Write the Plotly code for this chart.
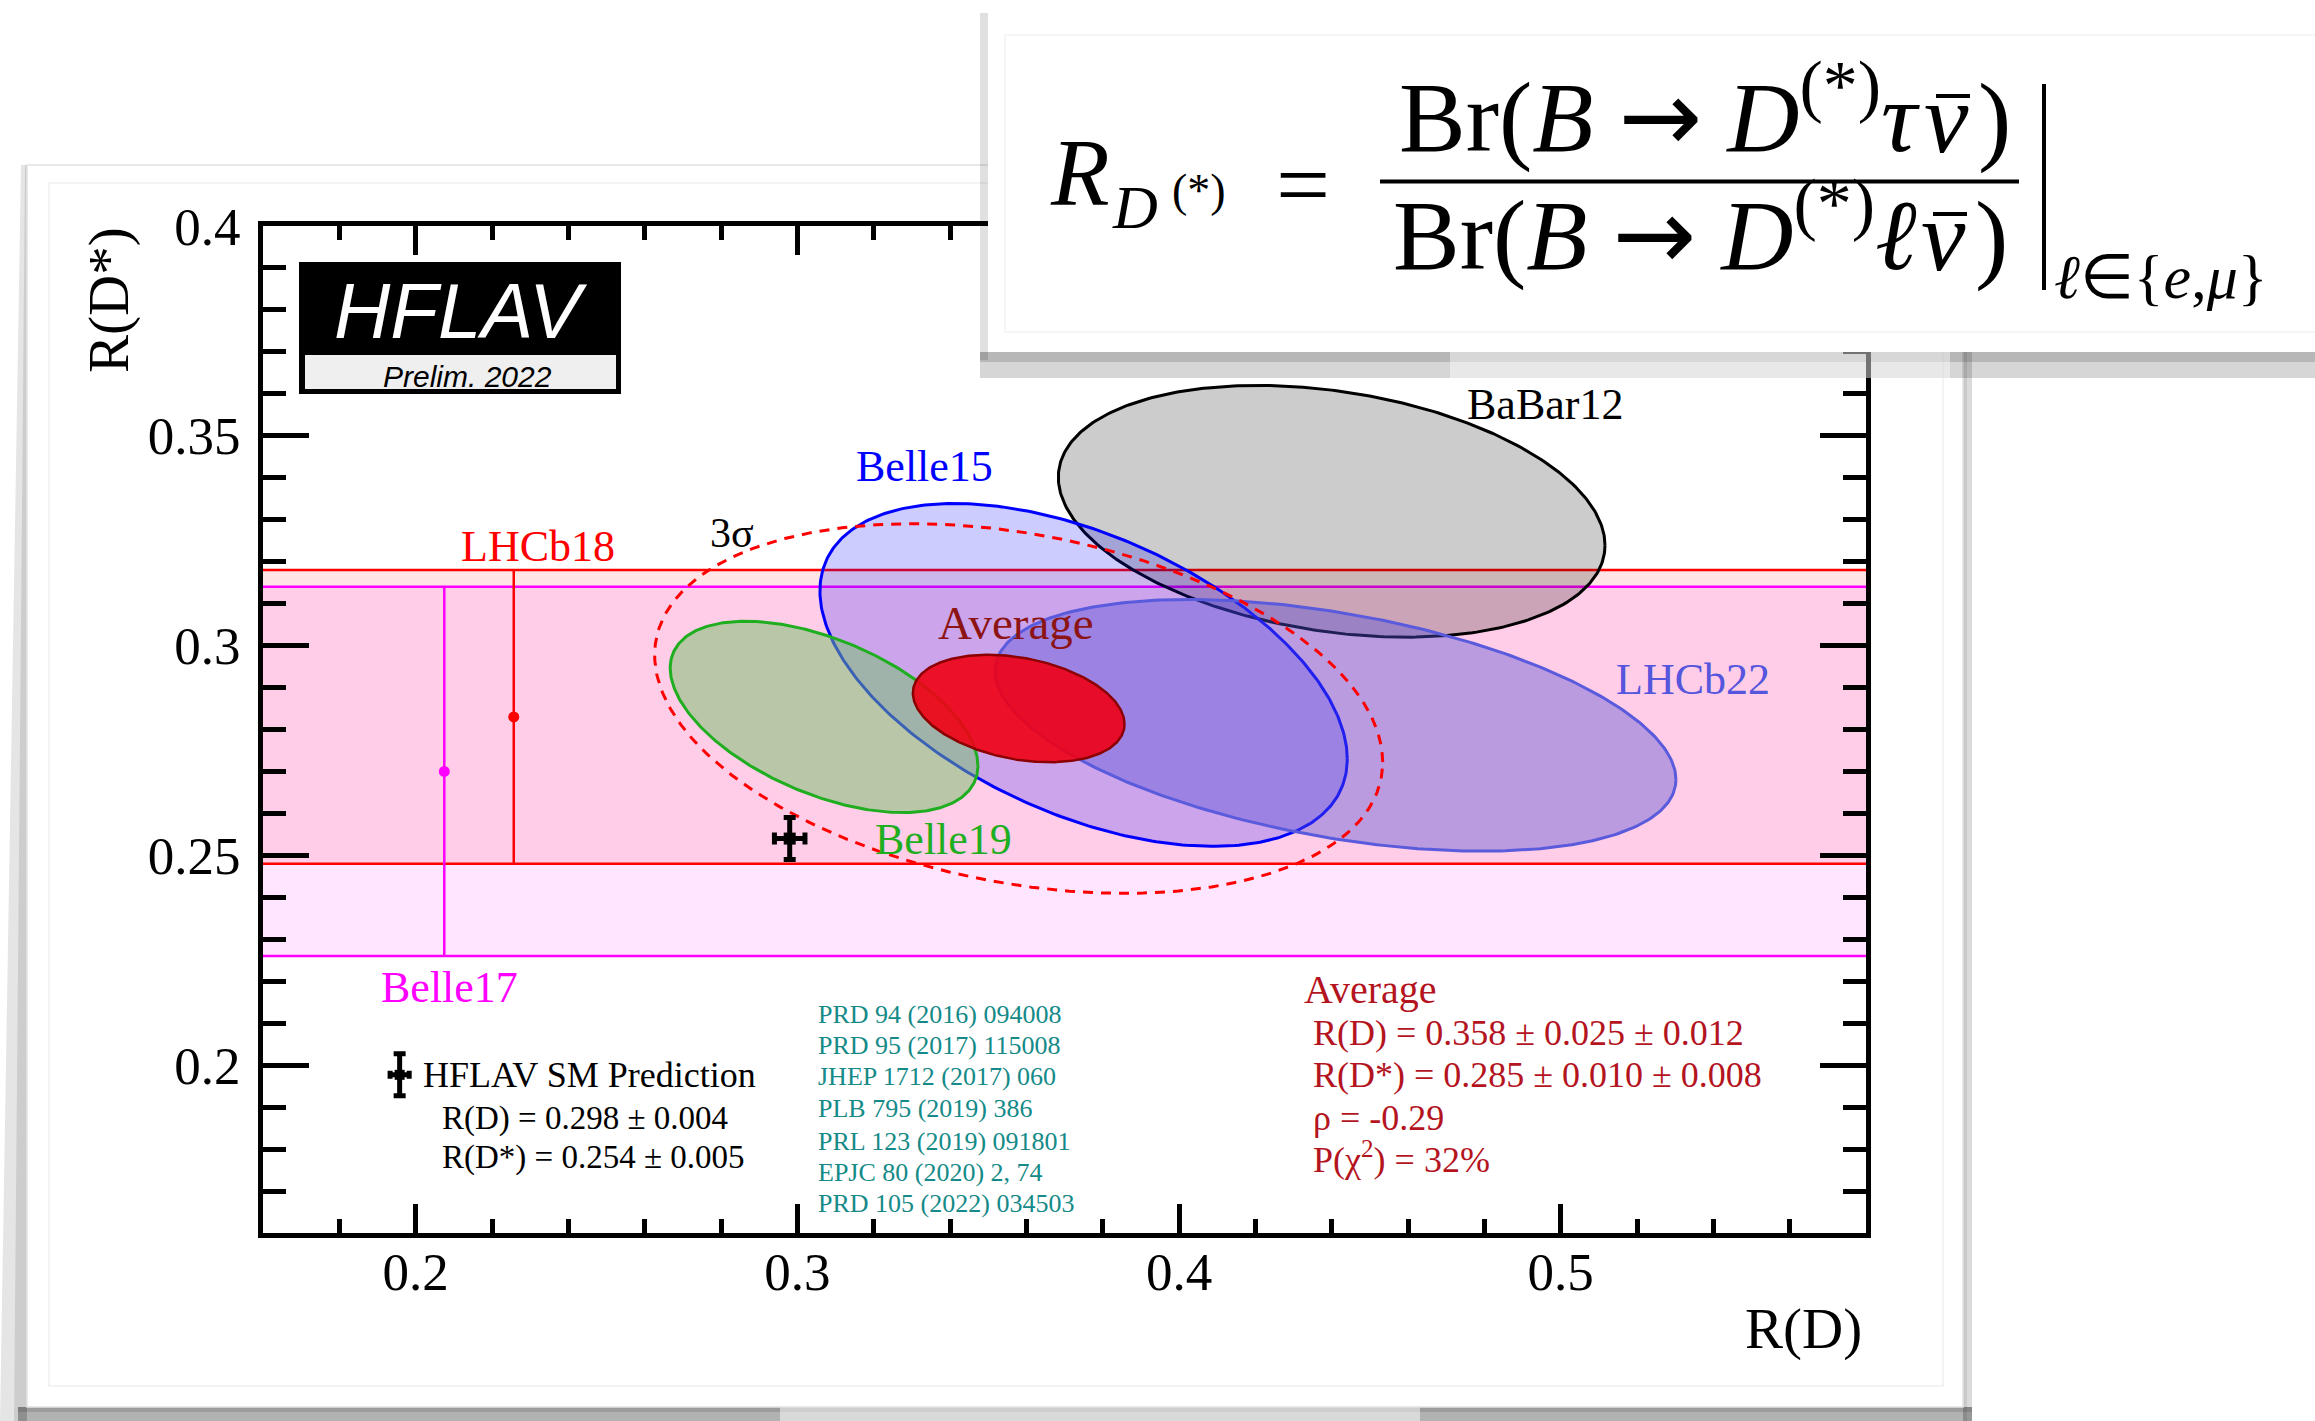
import numpy as np
import plotly.graph_objects as go

# ---------------------------------------------------------------- data
# 2D measurements of R(D) and R(D*)
experiments = ["BaBar12", "Belle15", "Belle19", "LHCb22"]
rd_central = [0.440, 0.375, 0.307, 0.441]
rd_stat = [0.058, 0.064, 0.037, 0.060]
rd_syst = [0.042, 0.026, 0.016, 0.066]
rds_central = [0.332, 0.293, 0.283, 0.281]
rds_stat = [0.024, 0.038, 0.018, 0.018]
rds_syst = [0.018, 0.015, 0.014, 0.024]
rho = [-0.27, -0.49, -0.51, -0.43]

# R(D*)-only measurements (drawn as horizontal bands)
band_names = ["LHCb18", "Belle17"]
band_rds = [0.283, 0.270]
band_err = [0.035, 0.044]
band_marker_x = [0.2257, 0.2075]

# world average
avg_rd, avg_rd_stat, avg_rd_syst = 0.358, 0.025, 0.012
avg_rds, avg_rds_stat, avg_rds_syst = 0.285, 0.010, 0.008
avg_rho = -0.29
avg_pchi2 = 32
chi2_3sigma = 11.83  # delta chi2 for 99.73% CL with 2 dof

# Standard Model prediction
sm_rd, sm_rd_err = 0.298, 0.004
sm_rds, sm_rds_err = 0.254, 0.005

references = [
    "PRD 94 (2016) 094008",
    "PRD 95 (2017) 115008",
    "JHEP 1712 (2017) 060",
    "PLB 795 (2019) 386",
    "PRL 123 (2019) 091801",
    "EPJC 80 (2020) 2, 74",
    "PRD 105 (2022) 034503",
]

x_tickvals = [0.2, 0.3, 0.4, 0.5]
x_ticktext = ["0.2", "0.3", "0.4", "0.5"]
y_tickvals = [0.2, 0.25, 0.3, 0.35, 0.4]
y_ticktext = ["0.2", "0.25", "0.3", "0.35", "0.4"]
X_RANGE = [0.16, 0.58]
Y_RANGE = [0.16, 0.40]

# ---------------------------------------------------------------- style
SERIF = "Liberation Serif"
SANS = "Liberation Sans"
W, H = 2315, 1421
PL, PR, PT, PB = 263, 1866, 226, 1233   # plot frame in page pixels

exp_line = ["black", "#0000ff", "#1fae1f", "#5a5adc"]
exp_fill = ["rgba(0,0,0,0.2)", "rgba(0,0,255,0.2)",
            "rgba(115,193,105,0.5)", "rgba(83,80,215,0.4)"]
band_line = ["#ff0000", "#ff00ff"]
band_fill = ["rgba(255,0,0,0.1)", "rgba(255,0,255,0.1)"]


def px(X):
    return (X - PL) / (PR - PL)


def py(Y):
    return (PB - Y) / (PB - PT)


def ellipse(mx, my, sx, sy, r, k=1.0, n=361):
    t = np.linspace(0, 2 * np.pi, n)
    x = mx + k * sx * np.cos(t)
    y = my + k * sy * (r * np.cos(t) + np.sqrt(1 - r * r) * np.sin(t))
    return x, y


fig = go.Figure()

# bands
for c, e, fc in zip(band_rds, band_err, band_fill):
    fig.add_trace(go.Scatter(
        x=[X_RANGE[0], X_RANGE[1], X_RANGE[1], X_RANGE[0], X_RANGE[0]],
        y=[c - e, c - e, c + e, c + e, c - e],
        mode="none", fill="toself", fillcolor=fc, hoverinfo="skip"))
for c, e, lc in zip(band_rds, band_err, band_line):
    fig.add_trace(go.Scatter(
        x=[X_RANGE[0], X_RANGE[1], None, X_RANGE[0], X_RANGE[1]],
        y=[c + e, c + e, None, c - e, c - e],
        mode="lines", line=dict(color=lc, width=2.5), hoverinfo="skip"))
for c, e, bx, lc in zip(band_rds, band_err, band_marker_x, band_line):
    fig.add_trace(go.Scatter(
        x=[bx], y=[c], mode="markers",
        marker=dict(color=lc, size=11),
        error_y=dict(type="data", array=[e], color=lc, thickness=2.5, width=0),
        hoverinfo="skip"))

# 1 sigma contours of the individual measurements
for i in range(len(experiments)):
    sx = np.hypot(rd_stat[i], rd_syst[i])
    sy = np.hypot(rds_stat[i], rds_syst[i])
    ex, ey = ellipse(rd_central[i], rds_central[i], sx, sy, rho[i])
    fig.add_trace(go.Scatter(
        x=ex, y=ey, mode="lines", fill="toself", fillcolor=exp_fill[i],
        line=dict(color=exp_line[i], width=3), hoverinfo="skip"))

# average and its 3 sigma contour
a_sx = np.hypot(avg_rd_stat, avg_rd_syst)
a_sy = np.hypot(avg_rds_stat, avg_rds_syst)
ax_, ay_ = ellipse(avg_rd, avg_rds, a_sx, a_sy, avg_rho)
fig.add_trace(go.Scatter(
    x=ax_, y=ay_, mode="lines", fill="toself", fillcolor="rgba(240,0,20,0.9)",
    line=dict(color="#8b0000", width=2.5), hoverinfo="skip"))
bx_, by_ = ellipse(avg_rd, avg_rds, a_sx, a_sy, avg_rho, k=np.sqrt(chi2_3sigma))
fig.add_trace(go.Scatter(
    x=bx_, y=by_, mode="lines",
    line=dict(color="#ff0000", width=3, dash="10px,8px"), hoverinfo="skip"))

# SM prediction and its legend key
fig.add_trace(go.Scatter(
    x=[sm_rd], y=[sm_rds], mode="markers",
    marker=dict(symbol="square", size=12, color="black"),
    error_x=dict(type="data", array=[sm_rd_err], color="black", thickness=5, width=6),
    error_y=dict(type="data", array=[sm_rds_err], color="black", thickness=5, width=6),
    hoverinfo="skip"))
LEGEND_KEY = (0.1958, 0.1977)
fig.add_trace(go.Scatter(
    x=[LEGEND_KEY[0]], y=[LEGEND_KEY[1]], mode="markers",
    marker=dict(symbol="square", size=10, color="black"),
    error_x=dict(type="data", array=[0.0025], color="black", thickness=5, width=4),
    error_y=dict(type="data", array=[sm_rds_err], color="black", thickness=5, width=6),
    hoverinfo="skip"))

# ---------------------------------------------------------------- annotations
ann = []


def text(x, y, s, size, color="black", xa="center", ya="middle", ref="data",
         family=SERIF, angle=0):
    d = dict(x=x, y=y, text=s, showarrow=False, xanchor=xa, yanchor=ya,
             font=dict(family=family, size=size, color=color), textangle=angle)
    if ref == "data":
        d.update(xref="x", yref="y")
    else:
        d.update(xref="paper", yref="paper")
    ann.append(d)


# curve labels
text(0.232, 0.3237, "LHCb18", 44, "#ff0000")
text(0.2089, 0.2185, "Belle17", 44, "#ff00ff")
text(0.3334, 0.3427, "Belle15", 44, "#0000ff")
text(0.4959, 0.3575, "BaBar12", 44, "black")
text(0.3383, 0.2537, "Belle19", 44, "#1fae1f")
text(0.5348, 0.2920, "LHCb22", 44, "#5555dd")
text(0.2828, 0.3268, "3σ", 42, "black")
text(0.3574, 0.3054, "Average", 47, "#8c1414")

# SM legend
text(0.2014, 0.1977, "HFLAV SM Prediction", 36, xa="left")
text(0.2064, 0.1872, f"R(D) = {sm_rd:.3f} ± {sm_rd_err:.3f}", 33, xa="left")
text(0.2064, 0.1780, f"R(D*) = {sm_rds:.3f} ± {sm_rds_err:.3f}", 33, xa="left")

# references
ref_y = [0.2121, 0.2047, 0.1974, 0.1897, 0.1819, 0.1745, 0.1671]
for s, yy in zip(references, ref_y):
    text(0.3050, yy, s, 26, "#158a88", xa="left")

# average summary
AVG_C = "#b4141e"
text(0.4323, 0.2181, "Average", 40, AVG_C, xa="left")
text(0.4346, 0.2076, f"R(D) = {avg_rd:.3f} ± {avg_rd_stat:.3f} ± {avg_rd_syst:.3f}", 36, AVG_C, xa="left")
text(0.4346, 0.1977, f"R(D*) = {avg_rds:.3f} ± {avg_rds_stat:.3f} ± {avg_rds_syst:.3f}", 36, AVG_C, xa="left")
text(0.4346, 0.1875, f"ρ = {avg_rho:.2f}", 36, AVG_C, xa="left")
text(0.4346, 0.1780, f"P(χ<sup>2</sup>) = {avg_pchi2}%", 36, AVG_C, xa="left")

# axis titles
text(px(1864), py(1329), "R(D)", 57, xa="right", ref="paper")
text(px(109), py(300), "R(D*)", 57, ref="paper", angle=-90)

# HFLAV logo
text(px(461), py(311), "<i>HFLAV</i>", 78, "white", ref="paper", family=SANS)
text(px(467), py(376), "<i>Prelim. 2022</i>", 30, "black", ref="paper", family=SANS)

# ratio definition
F = 96
FF = 100
ARROW = "<span style='font-family:DejaVu Sans'>→</span>"
text(px(1048), py(205 - 0.3375 * F), "<i>R</i>", F, xa="left", ref="paper")
text(px(1110), py(228 - 0.3375 * 62), "<i>D</i>", 62, xa="left", ref="paper")
text(px(1170), py(206 - 0.3375 * 46), "(*)", 46, xa="left", ref="paper")
text(px(1303), py(217 - 0.3375 * F), "=", F, ref="paper")
# numerator and denominator: Br(B -> D(*) tau nubar) / Br(B -> D(*) l nubar)
NU_X = [1922, 1919]
BASE = [152, 270]
LEAD = ["<i>τ</i>", "<i>ℓ</i>"]
for nx, base, lead in zip(NU_X, BASE, LEAD):
    text(px(nx), py(base - 0.414 * FF),
         f"Br(<i>B</i> {ARROW} <i>D</i><sup>(*)</sup>{lead}", FF, xa="right",
         ref="paper")
    text(px(nx), py(base - 0.3375 * FF), "<i>ν</i>", FF, xa="left", ref="paper")
    text(px(nx + 54), py(base - 0.3375 * FF), ")", FF, xa="left", ref="paper")
text(px(2052), py(298 - 0.3375 * 62), "<i>ℓ</i>∈{<i>e</i>,<i>μ</i>}", 62,
     xa="left", ref="paper")

# ---------------------------------------------------------------- shapes
shapes = []


def rect(x0, y0, x1, y1, fill=None, line=None, lw=0, layer="above"):
    shapes.append(dict(type="rect", xref="paper", yref="paper",
                       x0=px(x0), x1=px(x1), y0=py(y1), y1=py(y0),
                       fillcolor=fill or "rgba(0,0,0,0)",
                       line=dict(color=line or "rgba(0,0,0,0)", width=lw),
                       layer=layer))


def poly(pts, fill, layer="below"):
    path = "M " + " L ".join(f"{px(a):.5f},{py(b):.5f}" for a, b in pts) + " Z"
    shapes.append(dict(type="path", xref="paper", yref="paper", path=path,
                       fillcolor=fill, line=dict(width=0), layer=layer))


def seg(x0, y0, x1, y1, color, lw, layer="above"):
    shapes.append(dict(type="line", xref="paper", yref="paper",
                       x0=px(x0), x1=px(x1), y0=py(y0), y1=py(y1),
                       line=dict(color=color, width=lw), layer=layer))


# page card shadows and frame
poly([(0, 1421), (27, 1421), (27, 165), (21, 165)], "rgba(0,0,0,0.10)")
poly([(14, 1421), (27, 1421), (27, 165), (25, 165)], "rgba(0,0,0,0.10)")
rect(18, 1407, 1972, 1421, "rgba(0,0,0,0.30)", layer="below")
rect(18, 1407, 1972, 1412, "rgba(0,0,0,0.12)", layer="below")
rect(780, 1407, 1420, 1421, "rgba(255,255,255,0.5)", layer="below")
rect(1963, 352, 1972, 1421, "rgba(0,0,0,0.14)", layer="below")
rect(1963, 352, 1967, 1421, "rgba(0,0,0,0.08)", layer="below")
rect(27, 165, 1963, 1407, None, "#e2e2e2", 1.5, layer="below")
rect(49, 183, 1943, 1386, None, "#efefef", 1.5, layer="below")

# HFLAV logo box
rect(299, 262, 621, 394, "black")
rect(305, 355, 616, 389, "#efefef")

# ratio definition card
rect(980, 352, 2330, 378, "rgba(0,0,0,0.16)")
rect(980, 352, 2330, 362, "rgba(0,0,0,0.14)")
rect(1450, 352, 1950, 378, "rgba(255,255,255,0.45)")
rect(980, 13, 988, 360, "rgba(0,0,0,0.12)")
rect(988, 13, 2330, 352, "white")
rect(1005, 35, 2330, 332, None, "#f2f2f2", 1.5)
seg(1380, 181.6, 2019, 181.6, "black", 4)
seg(2044, 84, 2044, 290, "black", 4)
for nx, base in zip(NU_X, BASE):
    bar_y = base - 56
    seg(nx + 14, bar_y, nx + 48, bar_y, "black", 4)

# ---------------------------------------------------------------- layout
axis_common = dict(showline=True, linecolor="black", linewidth=5, mirror="ticks",
                   ticks="inside", tickcolor="black", tickwidth=5,
                   showgrid=False, zeroline=False, tickmode="array",
                   tickfont=dict(family=SERIF, size=53, color="black"))

fig.update_layout(
    width=W, height=H, autosize=False,
    margin=dict(l=PL, r=W - PR, t=PT, b=H - PB, pad=0),
    paper_bgcolor="white", plot_bgcolor="white",
    showlegend=False, hovermode=False,
    font=dict(family=SERIF, color="black"),
    xaxis=dict(range=X_RANGE, tickvals=x_tickvals, ticktext=x_ticktext,
               ticklen=29, ticklabelstandoff=-12,
               minor=dict(tickmode="linear", tick0=0, dtick=0.02, ticklen=14,
                          tickwidth=5, tickcolor="black", ticks="inside"),
               **axis_common),
    yaxis=dict(range=Y_RANGE, tickvals=y_tickvals, ticktext=y_ticktext,
               ticklen=46, ticklabelstandoff=7,
               minor=dict(tickmode="linear", tick0=0, dtick=0.01, ticklen=23,
                          tickwidth=5, tickcolor="black", ticks="inside"),
               **axis_common),
    annotations=ann,
    shapes=shapes,
)

fig.write_html("out.html", config={"displayModeBar": False})
